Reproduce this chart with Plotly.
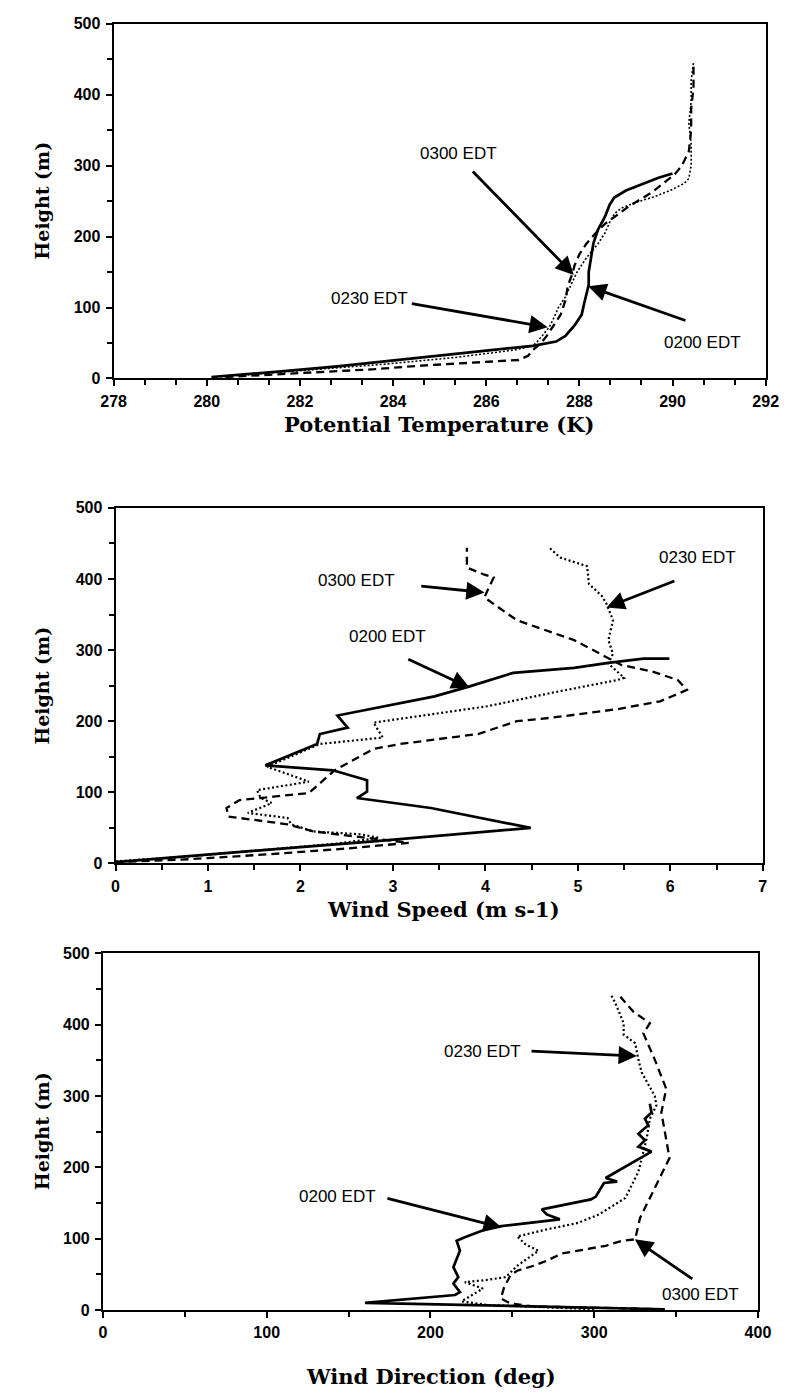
import plotly.graph_objects as go

# ---- Potential temperature profiles (K) vs height (m) ----
theta_0200_h = [2, 5, 10, 17, 25, 33, 40, 46, 52, 60, 75, 90, 105, 120, 132, 150, 170, 190,
                210, 228, 245, 255, 265, 275, 283, 289]
theta_0200 = [280.1, 280.6, 281.6, 282.8, 284.0, 285.1, 286.2, 287.0, 287.5, 287.7, 287.9, 288.05,
              288.1, 288.15, 288.2, 288.2, 288.25, 288.3, 288.4, 288.55, 288.65, 288.75, 289.0,
              289.4, 289.7, 290.0]

theta_0230_h = [2, 6, 12, 20, 30, 40, 46, 52, 60, 72, 85, 100, 115, 130, 150, 170, 190, 205, 220,
                232, 240, 248, 256, 265, 275, 282, 300, 330, 360, 390, 420, 445]
theta_0230 = [280.2, 281.0, 282.3, 283.8, 285.4, 286.6, 287.0, 287.1, 287.2, 287.35, 287.45, 287.55,
              287.7, 287.8, 287.95, 288.15, 288.4, 288.55, 288.65, 288.75, 288.9, 289.2, 289.6,
              289.95, 290.25, 290.35, 290.4, 290.4, 290.35, 290.4, 290.4, 290.45]

theta_0300_h = [2, 5, 9, 13, 18, 22, 26, 32, 40, 48, 60, 75, 90, 110, 130, 148, 160, 175, 190, 205,
                218, 230, 242, 252, 262, 275, 288, 300, 320, 350, 380, 410, 445]
theta_0300 = [280.4, 281.3, 282.5, 283.6, 284.6, 285.6, 286.7, 286.9, 287.0, 287.15, 287.3, 287.45,
              287.6, 287.7, 287.75, 287.85, 287.9, 288.0, 288.15, 288.35, 288.55, 288.8, 289.05,
              289.3, 289.55, 289.8, 290.05, 290.2, 290.35, 290.4, 290.4, 290.45, 290.45]

# ---- Wind speed profiles (m s-1) vs height (m) ----
speed_0200 = [0.0, 0.6, 1.2, 2.0, 2.79, 3.6, 4.49, 3.41, 2.61, 2.72, 2.72, 2.35, 1.62, 2.18, 2.21,
              2.51, 2.4, 3.45, 3.83, 4.3, 4.96, 5.33, 5.71, 5.99]
speed_0200_h = [2, 8, 15, 23, 31, 40, 50, 78, 92, 101, 117, 131, 138, 168, 182, 191, 208, 235, 249,
                268, 275, 282, 288, 288]

speed_0230 = [0.0, 0.8, 1.6, 2.4, 2.85, 2.65, 2.14, 1.9, 1.86, 1.43, 1.69, 1.57, 1.53, 2.09, 1.64,
              2.21, 2.89, 2.79, 4.02, 4.72, 5.43, 5.5, 5.33, 5.38, 5.33, 5.38, 5.31, 5.26, 5.12, 5.1,
              4.81, 4.69]
speed_0230_h = [3, 10, 19, 28, 36, 41, 45, 55, 64, 71, 85, 92, 103, 115, 136, 168, 177, 198, 221, 240,
                258, 261, 281, 295, 314, 342, 365, 376, 393, 418, 430, 444]

speed_0300 = [0.0, 0.8, 1.67, 2.5, 3.17, 2.61, 2.14, 1.86, 1.43, 1.22, 1.2, 1.34, 1.71, 2.09, 2.37,
              2.79, 3.08, 3.92, 4.2, 4.34, 4.72, 5.43, 5.89, 6.18, 6.08, 5.8, 5.47, 4.96, 4.34, 3.99,
              4.02, 4.09, 3.99, 3.8, 3.8]
speed_0300_h = [2, 6, 13, 21, 29, 38, 45, 55, 62, 66, 78, 89, 94, 99, 131, 161, 168, 182, 194, 200,
                205, 217, 228, 244, 258, 270, 279, 314, 342, 374, 383, 402, 406, 416, 444]

# ---- Wind direction profiles (deg) vs height (m) ----
dir_0200 = [343, 160, 215, 218, 214, 217, 214, 218, 216, 221, 237, 279, 271, 268, 298, 301, 306, 314,
            307, 335, 327, 331, 327, 333, 331, 335, 334]
dir_0200_h = [1, 10, 21, 25, 37, 46, 60, 83, 97, 102, 116, 127, 134, 141, 155, 159, 178, 180, 185,
              222, 229, 238, 247, 259, 268, 277, 289]

dir_0230 = [300, 262, 235, 219, 226, 232, 221, 234, 246, 253, 266, 258, 253, 271, 290, 303, 319, 327,
            332, 334, 338, 337, 329, 327, 325, 318, 318, 313, 310]
dir_0230_h = [1, 4, 7, 12, 22, 30, 39, 42, 46, 62, 83, 92, 103, 113, 122, 134, 157, 194, 240, 268,
              287, 300, 333, 351, 374, 386, 402, 430, 443]

dir_0300 = [343, 263, 249, 243, 245, 249, 253, 263, 271, 280, 302, 307, 317, 325, 328, 334, 340, 346,
            341, 344, 337, 330, 334, 324, 316]
dir_0300_h = [1, 5, 9, 16, 32, 49, 55, 62, 69, 79, 88, 90, 97, 99, 129, 157, 185, 213, 277, 310, 351,
              388, 402, 418, 439]

# ---- Labels ----
time_labels = ["0200 EDT", "0230 EDT", "0300 EDT"]
x_titles = ["Potential Temperature (K)", "Wind Speed (m s-1)", "Wind Direction (deg)"]
y_title = "Height (m)"

W, H = 799, 1397

SOLID = dict(color="black", width=2.7, dash="solid")
DOTTED = dict(color="black", width=2.2, dash="2px,2.5px")
DOTTED_THIN = dict(color="black", width=1.6, dash="2px,2px")
DASHED = dict(color="black", width=2.3, dash="8px,5px")

fig = go.Figure()


def add_profile(x, y, line, xa, ya, name):
    fig.add_trace(go.Scatter(x=x, y=y, mode="lines", line=line, xaxis=xa, yaxis=ya,
                             name=name, showlegend=False, hoverinfo="skip"))


# panel 1
add_profile(theta_0300, theta_0300_h, DASHED, "x", "y", time_labels[2])
add_profile(theta_0230, theta_0230_h, DOTTED_THIN, "x", "y", time_labels[1])
add_profile(theta_0200, theta_0200_h, SOLID, "x", "y", time_labels[0])
# panel 2
add_profile(speed_0300, speed_0300_h, DASHED, "x2", "y2", time_labels[2])
add_profile(speed_0230, speed_0230_h, DOTTED, "x2", "y2", time_labels[1])
add_profile(speed_0200, speed_0200_h, SOLID, "x2", "y2", time_labels[0])
# panel 3
add_profile(dir_0300, dir_0300_h, DASHED, "x3", "y3", time_labels[2])
add_profile(dir_0230, dir_0230_h, DOTTED, "x3", "y3", time_labels[1])
add_profile(dir_0200, dir_0200_h, SOLID, "x3", "y3", time_labels[0])

tickfont = dict(family="Liberation Sans, Arial, sans-serif", size=16, color="black", weight="bold")


def xaxis(dom, rng, dtick, minor_dtick, anchor):
    return dict(domain=dom, range=rng, dtick=dtick, tick0=rng[0], anchor=anchor,
                showline=True, linewidth=2, linecolor="black", mirror=True,
                ticks="outside", ticklen=6, tickwidth=2, tickcolor="black",
                ticklabelstandoff=1,
                minor=dict(dtick=minor_dtick, tick0=rng[0], ticks="outside", ticklen=5,
                           tickwidth=2, tickcolor="black"),
                showgrid=False, zeroline=False, tickfont=tickfont, fixedrange=True)


def yaxis(dom, anchor):
    return dict(domain=dom, range=[0, 500], dtick=100, tick0=0, anchor=anchor,
                showline=True, linewidth=2, linecolor="black", mirror=True,
                ticks="outside", ticklen=6, tickwidth=2, tickcolor="black",
                ticklabelstandoff=2,
                minor=dict(dtick=50, tick0=0, ticks="outside", ticklen=5, tickwidth=2,
                           tickcolor="black"),
                showgrid=False, zeroline=False, tickfont=tickfont, fixedrange=True)


def px_x(a, b):
    return [a / W, b / W]


def px_y(top, bottom):
    return [1 - bottom / H, 1 - top / H]


fig.update_layout(
    width=W, height=H, margin=dict(l=0, r=0, t=0, b=0),
    paper_bgcolor="white", plot_bgcolor="white",
    xaxis=xaxis(px_x(104, 778), [278, 292], 2, 2 / 3, "y"),
    yaxis=yaxis(px_y(16, 375), "x"),
    xaxis2=xaxis(px_x(106, 775), [0, 7], 1, 0.5, "y2"),
    yaxis2=yaxis(px_y(506, 866), "x2"),
    xaxis3=xaxis(px_x(93, 770), [0, 400], 100, 50, "y3"),
    yaxis3=yaxis(px_y(957, 1318), "x3"),
)

xtitle_font = dict(family="DejaVu Serif, Liberation Serif, serif", size=21, color="black",
                   weight="bold")
ytitle_font = dict(family="DejaVu Serif, Liberation Serif, serif", size=19, color="black",
                   weight="bold")
label_font = dict(family="Liberation Sans, Arial, sans-serif", size=17, color="black")

annotations = []

# axis titles
for text, cx, cy in [(x_titles[0], 440, 422), (x_titles[1], 445, 913), (x_titles[2], 432, 1385)]:
    annotations.append(dict(text=text, x=cx / W, y=1 - cy / H, xref="paper", yref="paper",
                            showarrow=False, font=xtitle_font, xanchor="center", yanchor="middle"))
for cy in [195, 686, 1137]:
    annotations.append(dict(text=y_title, x=30 / W, y=1 - cy / H, xref="paper", yref="paper",
                            showarrow=False, font=ytitle_font, textangle=-90,
                            xanchor="center", yanchor="middle"))

# time labels with arrows: (label, text pos, arrow tail, arrow head, axes)
callouts = [
    (time_labels[2], (285.4, 317), (285.68, 294), (287.88, 146), "x", "y"),
    (time_labels[1], (283.5, 113), (284.37, 106), (287.32, 72), "x", "y"),
    (time_labels[0], (290.64, 51), (290.31, 81), (288.19, 130), "x", "y"),
    (time_labels[2], (2.61, 398), (3.29, 390), (3.99, 381), "x2", "y2"),
    (time_labels[0], (2.94, 319), (3.15, 288), (3.83, 247), "x2", "y2"),
    (time_labels[1], (6.29, 430), (6.06, 398), (5.31, 360), "x2", "y2"),
    (time_labels[1], (231.5, 363), (260.8, 363), (326, 356), "x3", "y3"),
    (time_labels[0], (143.5, 159), (172.8, 157), (243.5, 115.5), "x3", "y3"),
    (time_labels[2], (364.8, 21), (360.8, 42), (324.8, 99), "x3", "y3"),
]
for text, tpos, tail, head, xa, ya in callouts:
    annotations.append(dict(text=text, x=tpos[0], y=tpos[1], xref=xa, yref=ya,
                            showarrow=False, font=label_font))
    annotations.append(dict(text="", x=head[0], y=head[1], xref=xa, yref=ya,
                            ax=tail[0], ay=tail[1], axref=xa, ayref=ya,
                            showarrow=True, arrowhead=2, arrowsize=1.3, arrowwidth=2.8,
                            arrowcolor="black"))

fig.update_layout(annotations=annotations)

fig.write_html("out.html")
